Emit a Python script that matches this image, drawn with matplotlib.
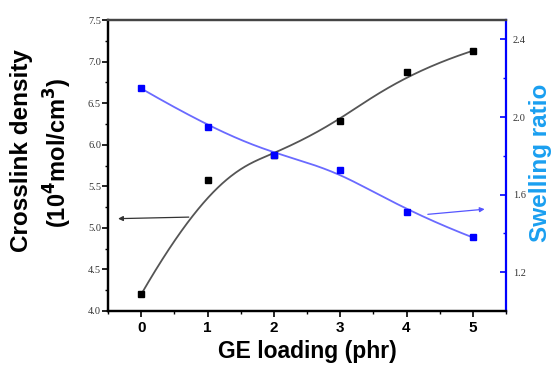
import numpy as np
import matplotlib
matplotlib.use("Agg")
import matplotlib.pyplot as plt
from matplotlib.ticker import MultipleLocator, FormatStrFormatter

ge_loading = [0, 1, 2, 3, 4, 5]
crosslink = [4.20, 5.58, 5.88, 6.28, 6.87, 7.13]
swelling = [2.147, 1.95, 1.805, 1.728, 1.512, 1.379]


def bspline_curve(px, py, degree=3, num=400):
    """Clamped uniform B-spline using the data points as control points."""
    P = np.column_stack([px, py]).astype(float)
    n = len(P)
    inner = np.arange(1, n - degree)
    knots = np.concatenate([np.zeros(degree + 1), inner,
                            np.full(degree + 1, n - degree)]).astype(float)
    ts = np.linspace(0, n - degree, num)
    ts[-1] -= 1e-9

    def basis(i, k, t):
        if k == 0:
            return 1.0 if knots[i] <= t < knots[i + 1] else 0.0
        a = 0.0
        d1 = knots[i + k] - knots[i]
        if d1 > 0:
            a += (t - knots[i]) / d1 * basis(i, k - 1, t)
        d2 = knots[i + k + 1] - knots[i + 1]
        if d2 > 0:
            a += (knots[i + k + 1] - t) / d2 * basis(i + 1, k - 1, t)
        return a

    out = np.array([sum(basis(i, degree, t) * P[i] for i in range(n)) for t in ts])
    return out[:, 0], out[:, 1]


fig = plt.figure(figsize=(5.56, 3.65), dpi=100)
ax = fig.add_axes([108/556, 1 - 311/365, 398/556, 291/365])
ax2 = ax.twinx()

bx, by = bspline_curve(ge_loading, crosslink)
sx, sy = bspline_curve(ge_loading, swelling)

ax.plot(bx, by, color="#555555", lw=1.3, zorder=2)
ax.plot(ge_loading, crosslink, "s", color="black", ms=5, zorder=3)
ax2.plot(sx, sy, color="#6a6aff", lw=1.3, zorder=2)
ax2.plot(ge_loading, swelling, "s", color="#0000ff", ms=5, zorder=3)

ax.set_xlim(-0.5, 5.5)
ax.set_ylim(4.0, 7.5)
ax2.set_ylim(1.0, 2.5)

ax.set_xticks(ge_loading)
ax.xaxis.set_minor_locator(MultipleLocator(0.5))
ax.yaxis.set_major_locator(MultipleLocator(0.5))
ax.yaxis.set_minor_locator(MultipleLocator(0.25))
ax2.set_yticks([1.2, 1.6, 2.0, 2.4])
ax2.set_yticks([1.4, 1.8, 2.2], minor=True)

ax.tick_params(axis="x", which="major", direction="out", length=4, width=1.2,
               labelsize=11, pad=3)
ax.tick_params(axis="x", which="minor", direction="out", length=2.5, width=1.0)
for lab in ax.get_xticklabels():
    lab.set_fontweight("bold")
    lab.set_fontfamily("Liberation Sans")
ax.tick_params(axis="y", which="major", direction="out", length=4, width=1.2,
               labelsize=7.5, pad=1, labelcolor="#333333")
ax.tick_params(axis="y", which="minor", direction="out", length=2.5, width=1.0)
ax.yaxis.set_major_formatter(FormatStrFormatter("%.1f"))
for lab in ax.get_yticklabels():
    lab.set_fontfamily("Liberation Serif")

ax2.tick_params(axis="y", which="major", direction="in", length=4, width=1.2,
                color="#0000ff", labelsize=7.5, pad=5, labelcolor="#333333")
ax2.tick_params(axis="y", which="minor", direction="in", length=2.5, width=1.0,
                color="#0000ff")
ax2.yaxis.set_major_formatter(FormatStrFormatter("%.1f"))
for lab in ax2.get_yticklabels():
    lab.set_fontfamily("Liberation Serif")

for sp in ["left", "bottom", "top"]:
    ax.spines[sp].set_linewidth(1.6)
    ax2.spines[sp].set_linewidth(1.6)
ax.spines["top"].set_color("#444444")
ax2.spines["top"].set_color("#444444")
ax2.spines["right"].set_color("#0000ff")
ax2.spines["right"].set_linewidth(1.6)
ax.spines["right"].set_visible(False)

ax.set_xlabel("GE loading (phr)", fontsize=16.5, fontweight="bold", labelpad=4,
              fontfamily="Liberation Sans")

fig.text(22/556, 1 - 151/365, "Crosslink density", rotation=90, fontsize=17.5,
         fontweight="bold", ha="center", va="center", fontfamily="Liberation Sans")
fig.text(58/556, 1 - 153/365, r"(10$^{\mathbf{4}}$mol/cm$^{\mathbf{3}}$)",
         rotation=90, fontsize=17, fontweight="bold", ha="center", va="center",
         fontfamily="Liberation Sans")
fig.text(541/556, 1 - 163/365, "Swelling ratio", rotation=90, fontsize=17.5,
         fontweight="bold", color="#1a9ff0", ha="center", va="center",
         fontfamily="Liberation Sans")

ax.annotate("", xy=(-0.39, 5.11), xytext=(0.76, 5.13),
            arrowprops=dict(arrowstyle="-|>", color="#333333", lw=0.9,
                            mutation_scale=7))
ax2.annotate("", xy=(5.22, 1.526), xytext=(4.28, 1.497),
             arrowprops=dict(arrowstyle="-|>", color="#5555ff", lw=0.9,
                             mutation_scale=7))

fig.savefig("out.png", dpi=100)
